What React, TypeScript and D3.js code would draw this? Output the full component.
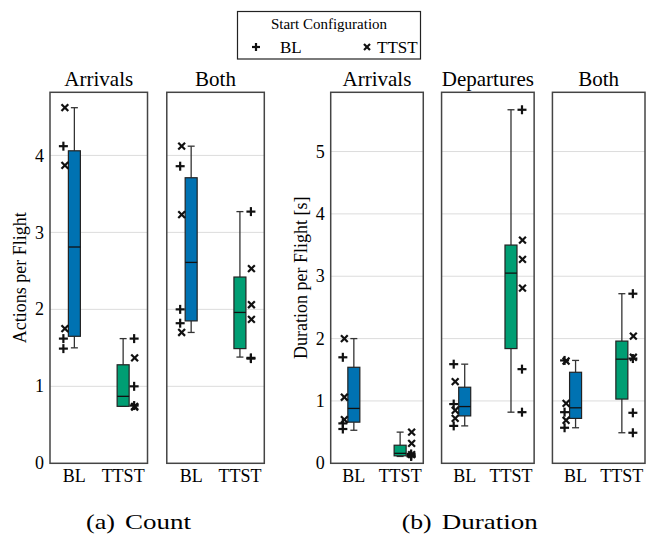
import React from 'react';
import * as d3 from 'd3';

// panels and categories
const countPanels = ['Arrivals', 'Both'];
const durationPanels = ['Arrivals', 'Departures', 'Both'];
const categories = ['BL', 'TTST'];
const countTicks = [0, 1, 2, 3, 4];
const durationTicks = [0, 1, 2, 3, 4, 5];

// box stats per panel, per category: [whiskerLow, q1, median, q3, whiskerHigh]
const countBoxes = [
  [[1.50, 1.65, 2.81, 4.06, 4.62], [0.74, 0.74, 0.87, 1.28, 1.62]],
  [[1.70, 1.85, 2.61, 3.71, 4.12], [1.38, 1.49, 1.96, 2.42, 3.27]],
];
const durationBoxes = [
  [[0.53, 0.66, 0.88, 1.54, 2.00], [0.11, 0.12, 0.16, 0.29, 0.50]],
  [[0.60, 0.76, 0.91, 1.22, 1.59], [0.82, 1.84, 3.05, 3.50, 5.67]],
  [[0.57, 0.72, 0.89, 1.46, 1.65], [0.49, 1.03, 1.67, 1.96, 2.72]],
];

// single observations, start configuration BL (+) and TTST (x)
const countPlus = [
  [[4.12, 1.62, 1.49], [1.62, 1.00, 0.75]],
  [[3.86, 2.00, 1.82], [3.27, 1.37, 1.36]],
];
const countCross = [
  [[4.62, 3.87, 1.75], [1.37, 0.74, 0.73]],
  [[4.12, 3.23, 1.70], [2.53, 2.06, 1.87]],
];
const durationPlus = [
  [[1.70, 0.64, 0.55], [0.15, 0.12, 0.11]],
  [[1.59, 0.95, 0.60], [5.67, 1.51, 0.82]],
  [[1.65, 0.82, 0.57], [2.72, 1.68, 0.81, 0.49]],
];
const durationCross = [
  [[2.00, 1.06, 0.70], [0.50, 0.32, 0.14]],
  [[1.31, 0.85, 0.72], [3.58, 3.27, 2.81]],
  [[1.64, 0.96, 0.69], [2.04, 1.70]],
];

const colors = ['#0072B2', '#009E73'];
const serif = { fontFamily: "'Liberation Serif', 'DejaVu Serif', serif" };

const Plus = ({ x, y, s = 4.5 }) => (
  <g stroke="#111" strokeWidth={2.2}>
    <line x1={x - s} x2={x + s} y1={y} y2={y} />
    <line x1={x} x2={x} y1={y - s} y2={y + s} />
  </g>
);

const Cross = ({ x, y, s = 3.4 }) => (
  <g stroke="#111" strokeWidth={2.2}>
    <line x1={x - s} x2={x + s} y1={y - s} y2={y + s} />
    <line x1={x - s} x2={x + s} y1={y + s} y2={y - s} />
  </g>
);

const Group = ({ panels, range, domainMax, ticks, boxes, plus, cross, yLabel, labelX }) => {
  const top = 92.3;
  const bottom = 463.3;
  const band = d3.scaleBand().domain(panels).range(range).paddingInner(0.165);
  const y = d3.scaleLinear().domain([0, domainMax]).range([bottom, top]);
  const boxW = 12;

  return (
    <g>
      <text
        transform={`translate(${labelX},${(top + bottom) / 2}) rotate(-90)`}
        textAnchor="middle"
        fontSize={18}
      >
        {yLabel}
      </text>
      {ticks.map((t) => (
        <text key={t} x={range[0] - 6} y={y(t)} dy="0.34em" textAnchor="end" fontSize={18}>
          {t}
        </text>
      ))}
      {panels.map((p, pi) => {
        const x0 = band(p);
        const x1 = x0 + band.bandwidth();
        const xc = d3.scalePoint().domain(categories).range([x0, x1]).padding(0.5);
        return (
          <g key={p}>
            {ticks.slice(1).map((t) => (
              <line key={t} x1={x0} x2={x1} y1={y(t)} y2={y(t)} stroke="#dcdcdc" strokeWidth={1} />
            ))}
            <text x={(x0 + x1) / 2} y={86} textAnchor="middle" fontSize={21}>
              {p}
            </text>
            {categories.map((c, ci) => {
              const cx = xc(c);
              const [lo, q1, med, q3, hi] = boxes[pi][ci];
              const side = ci === 0 ? -1 : 1;
              return (
                <g key={c}>
                  <g stroke="#333" strokeWidth={1.3}>
                    <line x1={cx} x2={cx} y1={y(hi)} y2={y(q3)} />
                    <line x1={cx} x2={cx} y1={y(q1)} y2={y(lo)} />
                    <line x1={cx - 3.5} x2={cx + 3.5} y1={y(hi)} y2={y(hi)} />
                    <line x1={cx - 3.5} x2={cx + 3.5} y1={y(lo)} y2={y(lo)} />
                  </g>
                  <rect
                    x={cx - boxW / 2}
                    y={y(q3)}
                    width={boxW}
                    height={Math.max(1, y(q1) - y(q3))}
                    fill={colors[ci]}
                    stroke="#222"
                    strokeWidth={1.2}
                  />
                  <line x1={cx - boxW / 2} x2={cx + boxW / 2} y1={y(med)} y2={y(med)} stroke="#111" strokeWidth={1.3} />
                  {plus[pi][ci].map((v, i) => (
                    <Plus key={'p' + i} x={cx + side * 11} y={y(v)} />
                  ))}
                  {cross[pi][ci].map((v, i) => (
                    <Cross key={'c' + i} x={cx + side * 9.5 + (side > 0 ? 2 : 0)} y={y(v)} />
                  ))}
                  <text x={cx} y={481.5} textAnchor="middle" fontSize={18}>
                    {c}
                  </text>
                </g>
              );
            })}
            <rect x={x0} y={top} width={x1 - x0} height={bottom - top} fill="none" stroke="#444" strokeWidth={1.5} />
          </g>
        );
      })}
    </g>
  );
};

const App = () => {
  return (
    <div style={{ position: 'absolute', left: 0, top: 0 }}>
      <svg width={654} height={536} style={{ display: 'block', background: '#fff', ...serif }}>
        {/* legend */}
        <rect x={237.5} y={11.5} width={183} height={47.5} fill="#fff" stroke="#222" strokeWidth={1.2} />
        <text x={329} y={29} textAnchor="middle" fontSize={15}>
          Start Configuration
        </text>
        <Plus x={256} y={47} s={4} />
        <text x={280} y={53} fontSize={17}>BL</text>
        <Cross x={367} y={47} s={3} />
        <text x={377} y={53} fontSize={17}>TTST</text>

        <Group
          panels={countPanels}
          range={[50, 264.3]}
          domainMax={4.82}
          ticks={countTicks}
          boxes={countBoxes}
          plus={countPlus}
          cross={countCross}
          yLabel="Actions per Flight"
          labelX={26}
        />
        <Group
          panels={durationPanels}
          range={[330.7, 645]}
          domainMax={5.95}
          ticks={durationTicks}
          boxes={durationBoxes}
          plus={durationPlus}
          cross={durationCross}
          yLabel="Duration per Flight [s]"
          labelX={307}
        />

        {/* sub captions */}
        <g fontSize={22}>
          <text x={86} y={529} textLength={29} lengthAdjust="spacingAndGlyphs">(a)</text>
          <text x={125} y={529} textLength={66} lengthAdjust="spacingAndGlyphs">Count</text>
          <text x={401.7} y={529} textLength={30} lengthAdjust="spacingAndGlyphs">(b)</text>
          <text x={441.7} y={529} textLength={96} lengthAdjust="spacingAndGlyphs">Duration</text>
        </g>
      </svg>
    </div>
  );
};

export default App;
